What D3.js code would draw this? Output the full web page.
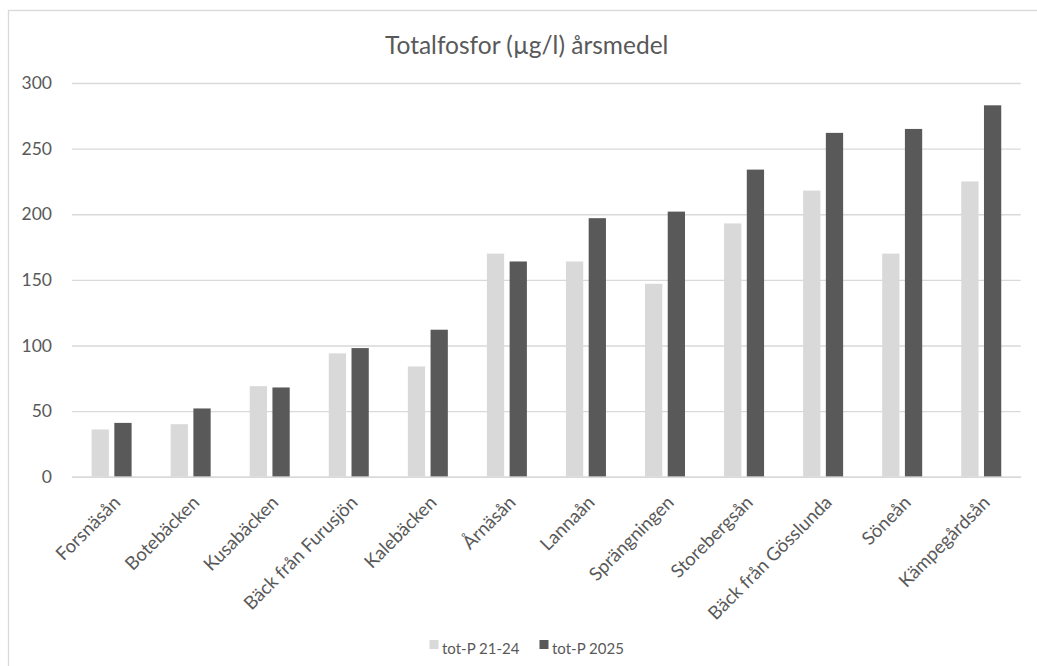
<!DOCTYPE html>
<html>
<head>
<meta charset="utf-8">
<script src="https://cdn.jsdelivr.net/npm/d3@7"></script>
<style>
  html, body { margin: 0; padding: 0; background: #fff; }
  svg { display: block; font-family: Lato, "Open Sans", sans-serif; }
</style>
</head>
<body>
<svg id="chart" width="1037" height="666"></svg>
<script>
// Annual mean total phosphorus per stream
const categories = ["Forsnäsån", "Botebäcken", "Kusabäcken", "Bäck från Furusjön", "Kalebäcken",
  "Årnäsån", "Lannaån", "Sprängningen", "Storebergsån", "Bäck från Gösslunda", "Söneån", "Kämpegårdsån"];
const seriesNames = ["tot-P 21-24", "tot-P 2025"];
const totP2124 = [36, 40, 69, 94, 84, 170, 164, 147, 193, 218, 170, 225];
const totP2025 = [41, 52, 68, 98, 112, 164, 197, 202, 234, 262, 265, 283];
const yTicks = [0, 50, 100, 150, 200, 250, 300];
const title = "Totalfosfor (µg/l) årsmedel";

const colors = ["#d9d9d9", "#595959"];
const textColor = "#595959";
const gridColor = "#d9d9d9";

const svg = d3.select("#chart");

// chart frame
svg.append("rect")
  .attr("x", 8.5).attr("y", 10.5)
  .attr("width", 1060).attr("height", 700)
  .attr("fill", "#fff")
  .attr("stroke", gridColor).attr("stroke-width", 1.3);

const plot = { left: 72, right: 1020.7, top: 83, bottom: 476.7 };

const x0 = d3.scaleBand().domain(categories).range([plot.left, plot.right]).paddingInner(0).paddingOuter(0);
const x1 = d3.scaleBand().domain(seriesNames).range([19.6, 59.6]).paddingInner(0.24).paddingOuter(0);
const y = d3.scaleLinear().domain([0, 300]).range([plot.bottom, plot.top]);

// title
svg.append("text")
  .attr("x", 526.7).attr("y", 54)
  .attr("text-anchor", "middle")
  .attr("fill", textColor)
  .attr("font-size", 24.5)
  .text(title);

// horizontal gridlines with value labels
const yAxis = d3.axisLeft(y).tickValues(yTicks).tickSize(-(plot.right - plot.left)).tickPadding(20).tickFormat(d3.format("d"));
const gy = svg.append("g").attr("transform", `translate(${plot.left},0)`).call(yAxis);
gy.select(".domain").remove();
gy.selectAll(".tick line").attr("stroke", gridColor).attr("stroke-width", 1.4);
gy.selectAll(".tick text")
  .attr("fill", textColor)
  .attr("font-size", 17.5)
  .attr("font-family", "Lato, sans-serif");

// bars
const rows = categories.map((c, i) => ({ cat: c, vals: [totP2124[i], totP2025[i]] }));
const groups = svg.append("g").selectAll("g").data(rows).join("g")
  .attr("transform", d => `translate(${x0(d.cat)},0)`);
groups.selectAll("rect")
  .data(d => d.vals.map((v, k) => ({ key: seriesNames[k], v, k })))
  .join("rect")
  .attr("x", d => x1(d.key))
  .attr("width", x1.bandwidth())
  .attr("y", d => y(d.v))
  .attr("height", d => y(0) - y(d.v))
  .attr("fill", d => colors[d.k]);

// category axis labels (rotated)
const xAxis = d3.axisBottom(x0).tickSize(0).tickPadding(0);
const gx = svg.append("g").attr("transform", `translate(0,${plot.bottom})`).call(xAxis);
gx.select(".domain").attr("stroke", gridColor).attr("stroke-width", 1.4);
gx.selectAll(".tick text")
  .attr("fill", textColor)
  .attr("font-size", 18.5)
  .attr("font-family", "Lato, sans-serif")
  .attr("text-anchor", "end")
  .attr("dy", null)
  .attr("y", 0)
  .attr("transform", "translate(10,27) rotate(-45)");

// legend
const legend = svg.append("g").attr("font-size", 15).attr("fill", textColor);
const items = [];
seriesNames.forEach((name, k) => {
  const g = legend.append("g");
  g.append("rect").attr("x", 0).attr("y", -9.5).attr("width", 9).attr("height", 9).attr("fill", colors[k]);
  const t = g.append("text").attr("x", 12.5).attr("y", 0).attr("dominant-baseline", "central").attr("dy", "-0.1em").attr("fill", textColor).text(name);
  const w = 12.5 + t.node().getComputedTextLength();
  items.push({ g, w });
});
const gap = 20;
const total = d3.sum(items, d => d.w) + gap * (items.length - 1);
let cursor = 526.7 - total / 2;
items.forEach(it => {
  it.g.attr("transform", `translate(${cursor},649.5)`);
  cursor += it.w + gap;
});
</script>
</body>
</html>
